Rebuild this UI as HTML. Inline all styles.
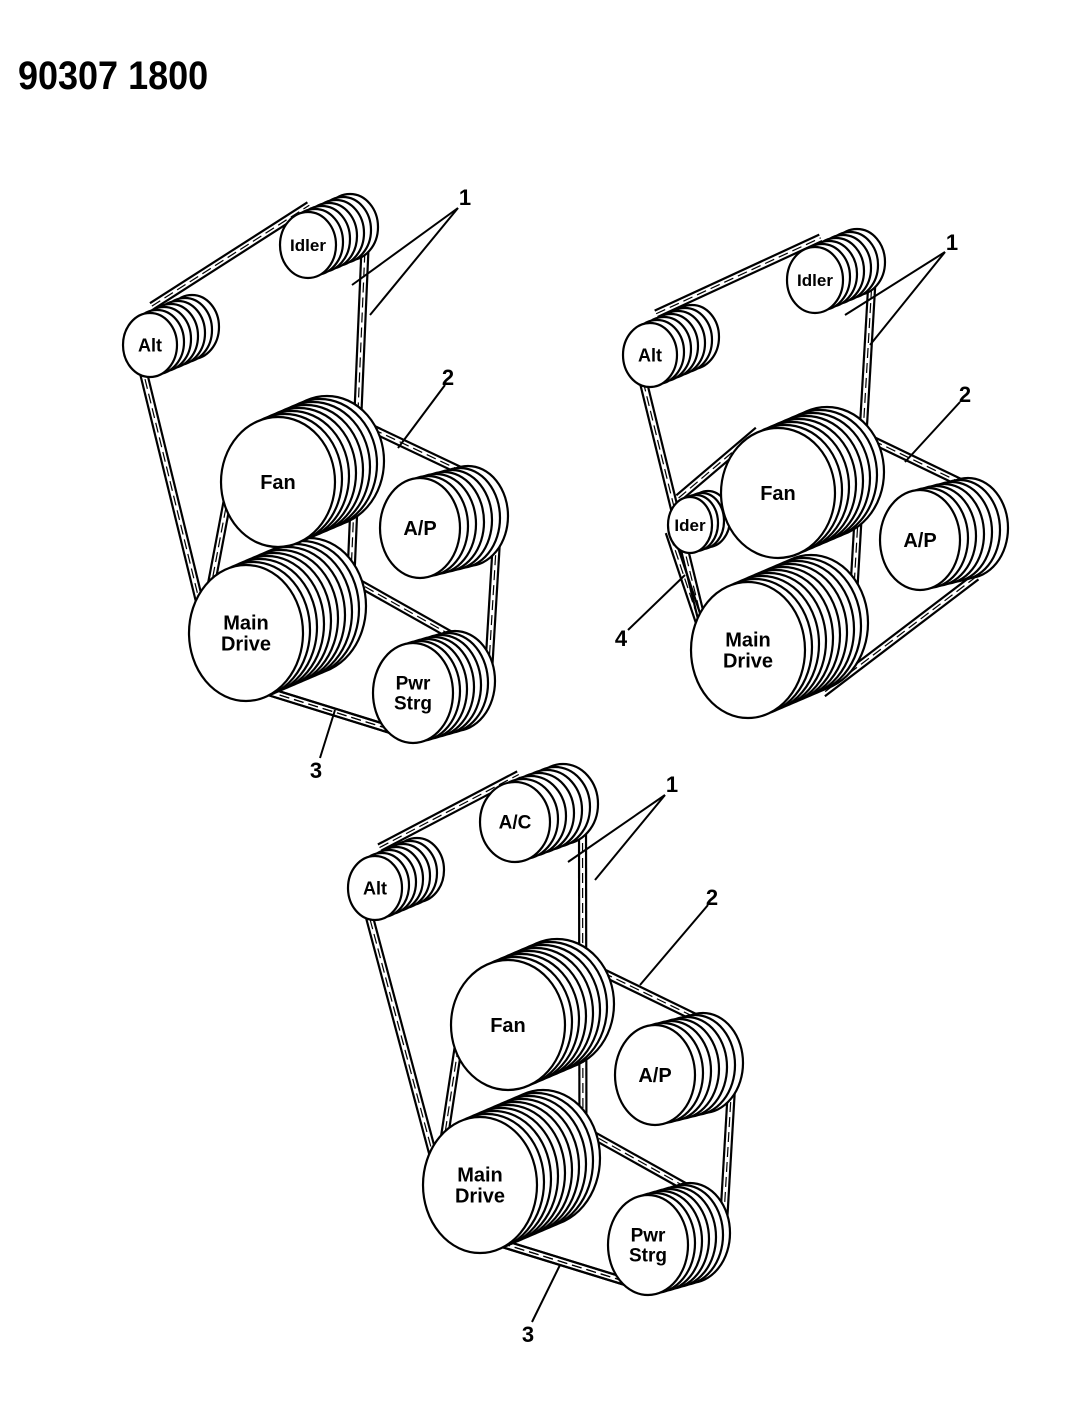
<!DOCTYPE html>
<html><head><meta charset="utf-8">
<style>
html,body{margin:0;padding:0;background:#fff;width:1075px;height:1403px;overflow:hidden}
svg{display:block}
text{font-family:"Liberation Sans",sans-serif;font-weight:bold;fill:#000}
</style></head>
<body>
<svg id="s" width="1075" height="1403" viewBox="0 0 1075 1403" xmlns="http://www.w3.org/2000/svg">
<text x="18" y="89" font-size="40" transform="translate(18,0) scale(0.9,1) translate(-18,0)">90307 1800</text>
<g id="belts" fill="none" stroke="#000" stroke-width="2.2"></g>
<g id="pul" stroke="#000" stroke-width="2.2" fill="#fff"></g>
<g id="labs" stroke="#000" stroke-width="2"></g>
</svg>
<script>
var NS="http://www.w3.org/2000/svg";
function el(p,t,a,txt){var e=document.createElementNS(NS,t);for(var k in a)e.setAttribute(k,a[k]);if(txt)e.textContent=txt;document.getElementById(p).appendChild(e);return e;}
function P(x,y,rx,ry,n,dx,dy){return {x:x,y:y,rx:rx,ry:ry,n:n,dx:dx,dy:dy,cx:x+dx*n/2,cy:y+dy*n/2,r:ry};}
function drawP(p,label,fs,lx,ly){
  for(var i=p.n;i>=0;i--){el("pul","ellipse",{cx:p.x+p.dx*i,cy:p.y+p.dy*i,rx:p.rx,ry:p.ry});}
  if(label){var ls=label.split("|");for(var j=0;j<ls.length;j++){el("pul","text",{x:p.x+(lx||0),y:p.y+(ly||0)+fs*0.35+(j-(ls.length-1)/2)*fs*1.05,"text-anchor":"middle","font-size":fs,stroke:"none"},ls[j]);}}
}
function tan(a,b,ra,rb,side){var dx=b.cx-a.cx,dy=b.cy-a.cy,d=Math.hypot(dx,dy),ux=dx/d,uy=dy/d,k=(ra-rb)/d,h=Math.sqrt(Math.max(0,1-k*k));
 var nx=ux*k-side*uy*h,ny=uy*k+side*ux*h;return [a.cx+ra*nx,a.cy+ra*ny,b.cx+rb*nx,b.cy+rb*ny];}
function belt(list,w){for(var i=0;i<list.length;i++){var a=list[i],b=list[(i+1)%list.length];
 [0,w].forEach(function(o){var t=tan(a,b,a.r+o,b.r+o,-1);el("belts","line",{x1:t[0],y1:t[1],x2:t[2],y2:t[3]});});
 var t2=tan(a,b,a.r+w/2,b.r+w/2,-1);el("belts","line",{x1:t2[0],y1:t2[1],x2:t2[2],y2:t2[3],"stroke-dasharray":"10 5","stroke-width":1.2});}}
function lab(t,x,y,lines){el("labs","text",{x:x,y:y,"font-size":22,stroke:"none","text-anchor":"middle"},t);lines.forEach(function(l){el("labs","line",{x1:l[0],y1:l[1],x2:l[2],y2:l[3]});});}

(function(){
var idl=P(308,245,28,33,6,7,-3),alt=P(150,345,27,32,6,7,-3),fan=P(278,482,57,65,7,7,-3),
ap=P(420,528,40,50,6,8,-2),md=P(246,633,57,68,9,7,-3),ps=P(413,693,40,50,6,7,-2);
belt([alt,idl,md],7);belt([fan,ap,ps,md],7);belt([md,ps],7);
drawP(alt,"Alt",18);drawP(idl,"Idler",17);drawP(md,"Main|Drive",20);drawP(fan,"Fan",20);drawP(ap,"A/P",20);drawP(ps,"Pwr|Strg",19);
lab("1",465,205,[[458,208,352,285],[458,208,370,315]]);
lab("2",448,385,[[445,385,398,448]]);
lab("3",316,778,[[320,758,335,710]]);
})();
(function(){
var idl=P(815,280,28,33,6,7,-3),alt=P(650,355,27,32,6,7,-3),fan=P(778,493,57,65,7,7,-3),
ap=P(920,540,40,50,6,8,-2),md=P(748,650,57,68,9,7,-3),id=P(690,525,22,28,3,6,-2);
belt([alt,idl,md],7);belt([id,fan,ap,md],7);
drawP(alt,"Alt",18);drawP(idl,"Idler",17);drawP(id,"Ider",17);drawP(md,"Main|Drive",20);drawP(fan,"Fan",20);drawP(ap,"A/P",20);
lab("1",952,250,[[945,252,845,315],[945,252,870,345]]);
lab("2",965,402,[[960,402,905,462]]);
lab("4",621,646,[[628,630,685,575]]);
})();
(function(){
var ac=P(515,822,35,40,6,8,-3),alt=P(375,888,27,32,6,7,-3),fan=P(508,1025,57,65,7,7,-3),
ap=P(655,1075,40,50,6,8,-2),md=P(480,1185,57,68,9,7,-3),ps=P(648,1245,40,50,6,7,-2);
belt([alt,ac,md],7);belt([fan,ap,ps,md],7);belt([md,ps],7);
drawP(alt,"Alt",18);drawP(ac,"A/C",19);drawP(md,"Main|Drive",20);drawP(fan,"Fan",20);drawP(ap,"A/P",20);drawP(ps,"Pwr|Strg",19);
lab("1",672,792,[[665,795,568,862],[665,795,595,880]]);
lab("2",712,905,[[708,905,640,985]]);
lab("3",528,1342,[[532,1322,560,1265]]);
})();
</script>
</body></html>
